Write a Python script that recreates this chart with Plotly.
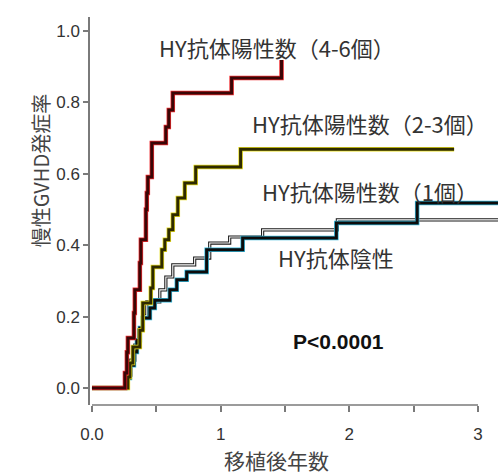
import plotly.graph_objects as go

# ---- data (years after transplant, cumulative incidence) ----
t_4_6 = [0, 0.256, 0.271, 0.279, 0.326, 0.333, 0.372, 0.380, 0.419, 0.426, 0.434, 0.465, 0.574, 0.597, 0.628, 1.085, 1.473]
y_4_6 = [0, 0.042, 0.100, 0.140, 0.210, 0.275, 0.350, 0.415, 0.500, 0.546, 0.591, 0.686, 0.731, 0.779, 0.826, 0.868, 0.919]

t_2_3 = [0, 0.279, 0.295, 0.318, 0.372, 0.395, 0.457, 0.473, 0.543, 0.566, 0.597, 0.628, 0.667, 0.721, 0.806, 1.155, 2.814]
y_2_3 = [0, 0.031, 0.070, 0.115, 0.162, 0.238, 0.280, 0.339, 0.387, 0.415, 0.443, 0.485, 0.532, 0.574, 0.619, 0.669, 0.669]

t_1 = [0, 0.264, 0.295, 0.326, 0.349, 0.372, 0.395, 0.450, 0.488, 0.605, 0.659, 0.736, 0.891, 1.171, 1.899, 2.527, 3.155]
y_1 = [0, 0.028, 0.064, 0.101, 0.134, 0.168, 0.196, 0.224, 0.246, 0.275, 0.303, 0.325, 0.387, 0.420, 0.462, 0.518, 0.518]

t_neg = [0, 0.271, 0.302, 0.333, 0.364, 0.395, 0.426, 0.527, 0.574, 0.628, 0.798, 0.915, 1.070, 1.326, 1.907, 3.155]
y_neg = [0, 0.036, 0.078, 0.120, 0.162, 0.202, 0.241, 0.275, 0.311, 0.345, 0.364, 0.406, 0.423, 0.443, 0.471, 0.471]

x_tickvals = [0, 0.5, 1, 1.5, 2, 2.5, 3]
x_ticktext = ["0.0", "", "1", "", "2", "", "3"]
y_tickvals = [0, 0.2, 0.4, 0.6, 0.8, 1.0]
y_ticktext = ["0.0", "0.2", "0.4", "0.6", "0.8", "1.0"]

labels = ["HY抗体陽性数（4-6個）", "HY抗体陽性数（2-3個）", "HY抗体陽性数（1個）", "HY抗体陰性"]
label_x = [1.434, 2.16, 2.16, 1.896]
label_y = [0.955, 0.742, 0.552, 0.367]
p_text = "P<0.0001"

fig = go.Figure()

def add_curve(t, y, outer, outer_w, inner, inner_w, name):
    fig.add_trace(go.Scatter(x=t, y=y, mode="lines", line=dict(shape="hv", color=outer, width=outer_w),
                             name=name, showlegend=False, hoverinfo="skip"))
    fig.add_trace(go.Scatter(x=t, y=y, mode="lines", line=dict(shape="hv", color=inner, width=inner_w),
                             name=name, showlegend=False, hoverinfo="skip"))

add_curve(t_neg, y_neg, "#1a1a1a", 3.2, "#ffffff", 1.1, labels[3])
add_curve(t_1, y_1, "#33b8dc", 4.5, "#0c0c0c", 3, labels[2])
add_curve(t_2_3, y_2_3, "#e6dc1c", 4.5, "#2e2a00", 3, labels[1])
add_curve(t_4_6, y_4_6, "#ee2a2e", 4.5, "#3a0606", 3, labels[0])

for txt, lx, ly in zip(labels, label_x, label_y):
    fig.add_annotation(x=lx, y=ly, text=txt, showarrow=False, xanchor="center", yanchor="middle",
                       font=dict(family="Noto Sans CJK JP", size=22, color="#333333"))

fig.add_annotation(x=1.916, y=0.129, text="<b>" + p_text + "</b>", showarrow=False,
                   xanchor="center", yanchor="middle",
                   font=dict(family="Liberation Sans, Arial", size=21, color="#111111"))

# axis titles
fig.add_annotation(xref="paper", yref="paper", x=0.455, y=-0.143, text="移植後年数", showarrow=False,
                   xanchor="center", yanchor="middle",
                   font=dict(family="Noto Sans CJK JP", size=21, color="#444444"))
fig.add_annotation(xref="paper", yref="paper", x=-0.122, y=0.603, text="慢性GVHD発症率", showarrow=False,
                   textangle=-90, xanchor="center", yanchor="middle",
                   font=dict(family="Noto Sans CJK JP", size=20, color="#444444"))

# x axis line spans only the tick range
fig.add_shape(type="line", xref="x", yref="paper", x0=x_tickvals[0], x1=x_tickvals[-1], y0=0, y1=0,
              line=dict(color="#7a7a7a", width=1.5))

fig.update_xaxes(range=[-0.0155, 3.163], showgrid=False, zeroline=False, showline=False,
                 tickmode="array", tickvals=x_tickvals, ticktext=x_ticktext,
                 ticks="outside", ticklen=6, tickwidth=1.5, tickcolor="#7a7a7a",
                 ticklabelstandoff=8,
                 tickfont=dict(family="Liberation Sans, Arial", size=17, color="#333333"))
fig.update_yaxes(range=[-0.0476, 1.0392], showgrid=False, zeroline=False, showline=True,
                 linecolor="#7a7a7a", linewidth=1.5,
                 tickmode="array", tickvals=y_tickvals, ticktext=y_ticktext,
                 ticks="outside", ticklen=5, tickwidth=1.5, tickcolor="#7a7a7a",
                 tickfont=dict(family="Liberation Sans, Arial", size=17, color="#333333"))

fig.update_layout(width=499, height=475, margin=dict(l=90, r=0, t=17, b=70),
                  plot_bgcolor="white", paper_bgcolor="white", showlegend=False)

fig.write_html("out.html", config={"displayModeBar": False},
               post_script="document.body.style.margin='0';document.body.style.padding='0';")
